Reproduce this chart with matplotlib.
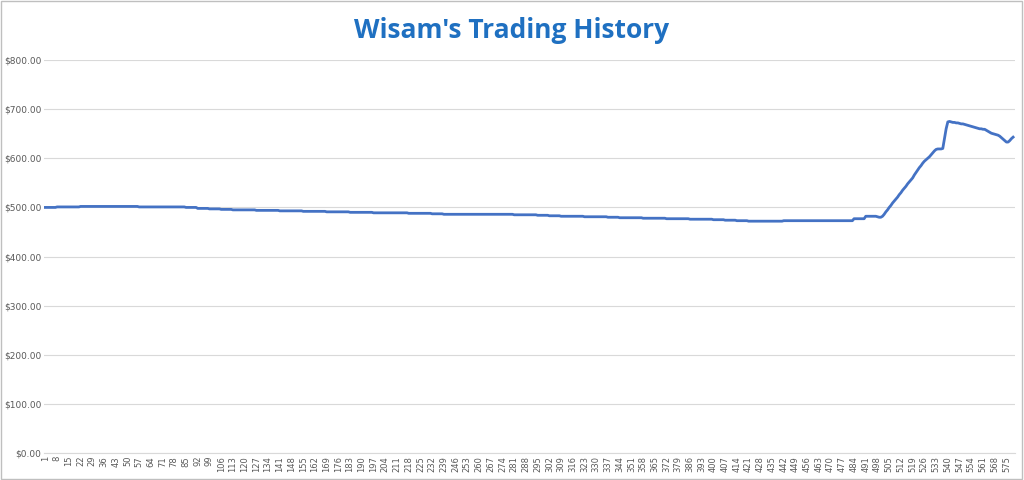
import matplotlib
matplotlib.use("Agg")
import matplotlib.pyplot as plt
import numpy as np

# flat part: one reading every 7 trades (trades 1..497)
flat_values = [500,501,501,502,502,502,502,502,501,501,501,501,500,498,497,496,495,495,494,494,
               493,493,492,492,491,491,490,490,489,489,489,488,488,487,486,486,486,486,486,486,
               485,485,484,483,482,482,481,481,480,479,479,478,478,477,477,476,476,475,474,473,
               472,472,472,473,473,473,473,473,473,477,482]
# trades 498..579
tail_values = [481,480,480,482,
               486,491,495,500,504,509,513,517,521,
               526,530,535,539,543,548,552,556,560,
               566,571,576,581,585,590,
               594,597,600,603,607,611,
               615,618,619,619,619,620,
               640,660,674,675,
               674,673,673,672,672,671,670,670,669,
               668,667,666,665,664,663,662,661,660,660,659,659,
               657,655,653,651,650,649,648,647,
               645,642,639,636,633,
               633,636,640,643]
balance = np.concatenate([np.repeat(flat_values, 7), tail_values])
trades = np.arange(1, len(balance) + 1)
tick_labels = [str(t) for t in range(1, len(balance) + 1, 7)]

fig = plt.figure(figsize=(10.24, 4.8), dpi=100)
ax = fig.add_axes([0.043, 0.056, 0.948, 0.819])
ax.plot(trades, balance, color="#4472C4", lw=2.0)
ax.set_ylim(0, 800)
ax.set_xlim(0.2, len(balance) + 1)
ax.set_yticks(range(0, 801, 100))
ax.set_yticklabels([f"${v:,.2f}" for v in range(0, 801, 100)], fontsize=6.5, color="#595959")
ax.set_xticks(range(1, len(balance) + 1, 7))
ax.set_xticklabels(tick_labels, rotation=90, fontsize=6, color="#595959")
ax.grid(axis="y", color="#D9D9D9", lw=0.8)
ax.set_axisbelow(True)
for s in ["top", "right", "left"]:
    ax.spines[s].set_visible(False)
ax.spines["bottom"].set_color("#D9D9D9")
ax.tick_params(length=0, pad=2)
fig.text(0.5, 0.937, "Wisam's Trading History", ha="center", va="center",
         fontsize=19, fontweight="bold", color="#1F70C1", family="Open Sans")
fig.patches.append(plt.Rectangle((0.001, 0.002), 0.997, 0.996, transform=fig.transFigure,
                                 fill=False, edgecolor="#BFBFBF", lw=1))
fig.savefig("out.png", dpi=100)
